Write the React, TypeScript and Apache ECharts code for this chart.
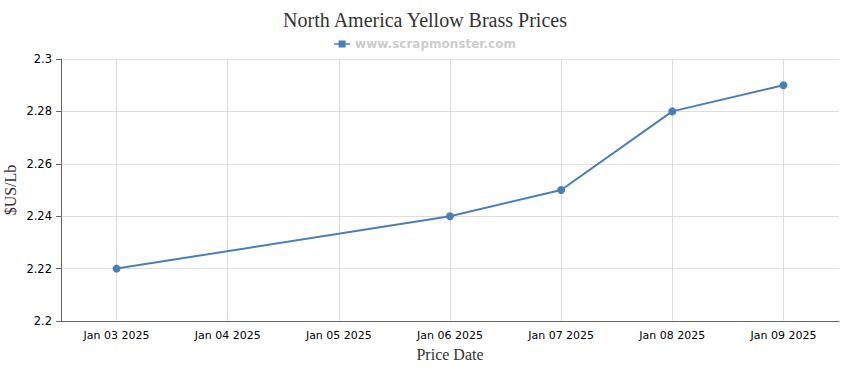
import React, { useEffect, useRef } from "react";
import * as echarts from "echarts";

const categories = [
  "Jan 03 2025",
  "Jan 04 2025",
  "Jan 05 2025",
  "Jan 06 2025",
  "Jan 07 2025",
  "Jan 08 2025",
  "Jan 09 2025",
];
const prices: (number | null)[] = [2.22, null, null, 2.24, 2.25, 2.28, 2.29];
const seriesName = "www.scrapmonster.com";
const titleText = "North America Yellow Brass Prices";

export default function App() {
  const ref = useRef<HTMLDivElement>(null);
  useEffect(() => {
    if (!ref.current) return;
    const chart = echarts.init(ref.current, undefined, { renderer: "svg" });
    chart.setOption({
      animation: false,
      backgroundColor: "#ffffff",
      title: {
        text: titleText,
        left: "center",
        top: 5,
        textStyle: {
          fontFamily: "Liberation Serif, serif",
          fontSize: 20,
          fontWeight: "normal",
          color: "#333333",
        },
      },
      legend: {
        top: 33,
        left: "center",
        itemWidth: 16,
        itemHeight: 8,
        itemGap: 5,
        data: [
          {
            name: seriesName,
            icon: "path://M0,3.2 H16 V4.8 H0 Z M4.5,0.5 H11.5 V7.5 H4.5 Z",
          },
        ],
        textStyle: {
          fontFamily: "DejaVu Sans, Verdana, sans-serif",
          fontSize: 12,
          fontWeight: "bold",
          color: "#cccccc",
        },
      },
      grid: {
        left: 61,
        right: 11,
        top: 59,
        bottom: 49,
        containLabel: false,
        outerBoundsMode: "none",
      },
      xAxis: {
        type: "category",
        data: categories,
        boundaryGap: true,
        name: "Price Date",
        nameLocation: "middle",
        nameGap: 25,
        nameMoveOverlap: false,
        nameTextStyle: {
          fontFamily: "Liberation Serif, serif",
          fontSize: 16,
          color: "#333333",
        },
        axisLine: { lineStyle: { color: "#666666", width: 1 } },
        axisTick: { alignWithLabel: true, length: 5, lineStyle: { color: "#666666" } },
        axisLabel: {
          fontFamily: "DejaVu Sans, Verdana, sans-serif",
          fontSize: 11,
          color: "#000000",
          margin: 9,
          interval: 0,
        },
        splitLine: {
          show: true,
          alignWithLabel: true,
          lineStyle: { color: "#dddddd", width: 1 },
        },
      },
      yAxis: {
        type: "value",
        min: 2.2,
        max: 2.3,
        interval: 0.02,
        name: "$US/Lb",
        nameLocation: "middle",
        nameGap: 43,
        nameMoveOverlap: false,
        nameTextStyle: {
          fontFamily: "Liberation Serif, serif",
          fontSize: 16,
          color: "#333333",
        },
        axisLine: { show: true, lineStyle: { color: "#666666", width: 1 } },
        axisTick: { show: true, length: 5, lineStyle: { color: "#666666" } },
        axisLabel: {
          fontFamily: "DejaVu Sans, Verdana, sans-serif",
          fontSize: 11.5,
          color: "#000000",
          margin: 9,
          formatter: (v: number) => String(parseFloat(v.toFixed(2))),
        },
        splitLine: { show: true, lineStyle: { color: "#dddddd", width: 1 } },
      },
      series: [
        {
          name: seriesName,
          type: "line",
          data: prices,
          connectNulls: true,
          symbol: "circle",
          symbolSize: 8,
          itemStyle: { color: "#4a7ebb" },
          lineStyle: { color: "#4a7ebb", width: 2 },
        },
      ],
    });
    return () => chart.dispose();
  }, []);
  return (
    <div
      ref={ref}
      style={{ position: "fixed", left: 0, top: 0, width: 850, height: 370 }}
    />
  );
}
